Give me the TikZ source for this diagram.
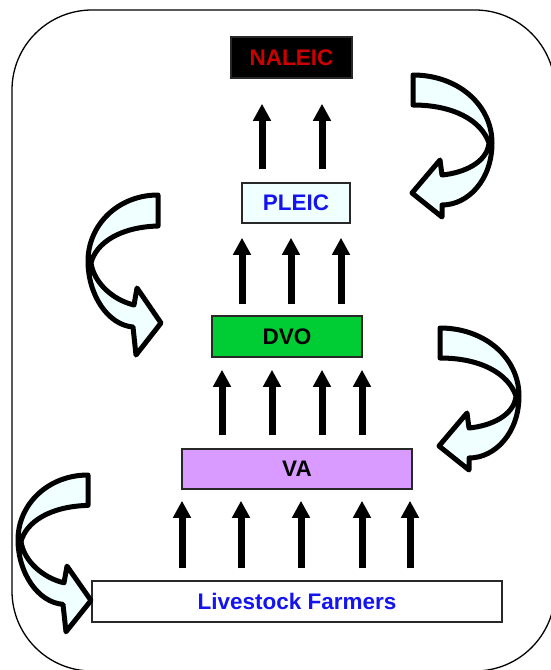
\documentclass[tikz,border=0pt]{standalone}
\usepackage{fontspec}
\setmainfont{Liberation Sans}
\usetikzlibrary{arrows.meta,calc}
\definecolor{azurefill}{RGB}{240,255,255}
\definecolor{dvogreen}{RGB}{0,204,51}
\definecolor{valav}{RGB}{217,155,255}
\definecolor{txtblue}{RGB}{20,20,240}
\definecolor{txtred}{RGB}{204,0,0}
\definecolor{edgegray}{RGB}{40,40,40}
\begin{document}
\begin{tikzpicture}[x=1pt,y=-1pt,
  box/.style={draw=edgegray,line width=1.5pt,inner sep=0pt,font=\fontsize{22.5}{26}\selectfont\bfseries},
  uparr/.style={line width=7pt,-{Triangle[length=17pt,width=17pt]}},
  cband/.style={draw=black,fill=azurefill,line width=5pt,line join=round},
  rarrow/.pic={\path[cband] (0,0) .. controls (45,0) and (79,30) .. (79,68)
      .. controls (79,105) and (55,130) .. (29,130) -- (29,142) -- (-1,118) -- (27,85) -- (29,100)
      .. controls (50,98) and (74,88) .. (76,68) .. controls (68,45) and (40,30) .. (0,30) -- cycle;},
  larrow/.pic={\path[cband] (0,0) .. controls (40,0) and (70,30) .. (70,66)
      .. controls (70,100) and (50,130) .. (25,132) -- (22,160) -- (-3,128) -- (21,93) -- (24,110)
      .. controls (45,105) and (64,88) .. (67,68) .. controls (62,48) and (38,32) .. (0,31) -- cycle;}
]
\useasboundingbox (0,0) rectangle (550,670);
\draw[line width=1.3pt,rounded corners=80pt] (12,10) rectangle (555,671);

\node[box,fill=black,text=txtred,minimum width=121pt,minimum height=41pt] (naleic) at (291.5,57.5) {NALEIC};
\node[box,fill=azurefill,text=txtblue,minimum width=108pt,minimum height=40pt] (pleic) at (296,203) {PLEIC};
\node[box,fill=dvogreen,text=black,minimum width=150pt,minimum height=41pt] (dvo) at (287,336.5) {DVO};
\node[box,fill=valav,text=black,minimum width=230pt,minimum height=40pt] (va) at (297,469) {VA};
\node[box,fill=white,text=txtblue,minimum width=410pt,minimum height=41pt] (farm) at (297,601.5) {Livestock Farmers};

\foreach \dx in {-34,26}
  \draw[uparr,shorten <=13pt,shorten >=25pt] ($(pleic.north)+(\dx,0)$) -- ($(pleic.north |- naleic.south)+(\dx,0)$);
\foreach \dx in {-45,4,54}
  \draw[uparr,shorten <=11pt,shorten >=14pt] ($(dvo.north)+(\dx,0)$) -- ($(dvo.north |- pleic.south)+(\dx,0)$);
\foreach \dx in {-75,-25,25,65}
  \draw[uparr,shorten <=13pt,shorten >=12pt] ($(va.north)+(\dx,0)$) -- ($(va.north |- dvo.south)+(\dx,0)$);
\foreach \dx in {-115,-56,4,65,113}
  \draw[uparr,shorten <=12pt,shorten >=11pt] ($(farm.north)+(\dx,0)$) -- ($(farm.north |- va.south)+(\dx,0)$);

\path (413,75) pic {rarrow};
\path (440,328) pic {rarrow};
\path (158,195) pic[xscale=-1] {larrow};
\path (88,475) pic[xscale=-1,yscale=0.98] {larrow};
\end{tikzpicture}
\end{document}
